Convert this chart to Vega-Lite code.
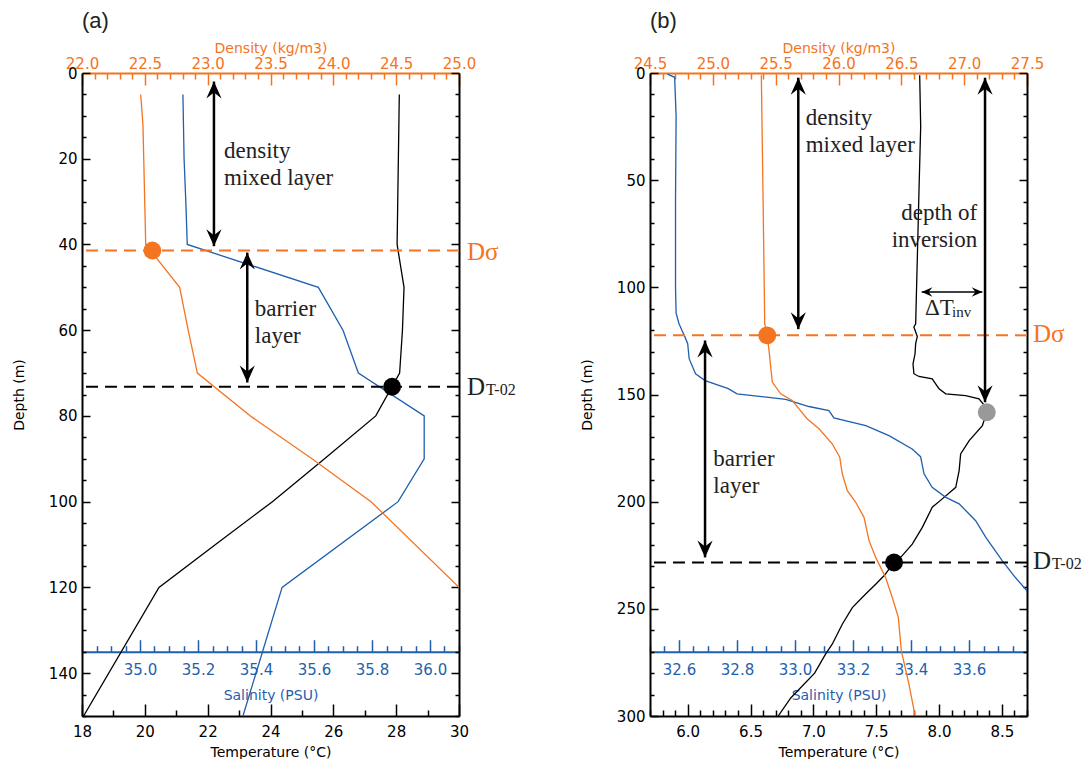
{
  "$schema": "https://vega.github.io/schema/vega-lite/v6.json",
  "background": "white",
  "padding": {"left": 12, "top": 10, "right": 0, "bottom": 0},
  "bounds": "flush",
  "spacing": 191,
  "config": {
    "view": {"stroke": null},
    "axis": {"labelFont": "DejaVu Sans", "labelFontSize": 15, "labelColor": "#000", "titleFont": "DejaVu Sans", "titleFontSize": 14, "titleFontWeight": "normal", "titleColor": "#000", "domainColor": "#000", "domainWidth": 2, "tickColor": "#000", "tickWidth": 1.5, "grid": false, "labelFlush": false, "labelOverlap": false},
    "title": {"font": "Liberation Sans", "fontSize": 22, "fontWeight": "normal", "anchor": "start", "frame": "group", "color": "#222", "offset": 8}
  },
  "datasets": {
    "aT": [{"z":5,"v":28.10},{"z":10,"v":28.09},{"z":20,"v":28.07},{"z":30,"v":28.05},{"z":40,"v":28.03},{"z":50,"v":28.25},{"z":60,"v":28.20},{"z":70,"v":28.11},{"z":80,"v":27.35},{"z":90,"v":25.72},{"z":100,"v":24.06},{"z":110,"v":22.25},{"z":120,"v":20.45},{"z":150,"v":18.05}],
    "aS": [{"z":5,"v":35.148},{"z":20,"v":35.152},{"z":30,"v":35.158},{"z":40,"v":35.163},{"z":50,"v":35.615},{"z":60,"v":35.70},{"z":70,"v":35.753},{"z":80,"v":35.98},{"z":90,"v":35.98},{"z":100,"v":35.89},{"z":120,"v":35.49},{"z":150,"v":35.355}],
    "aD": [{"z":5,"v":22.467},{"z":12,"v":22.485},{"z":40,"v":22.507},{"z":50,"v":22.777},{"z":60,"v":22.845},{"z":70,"v":22.918},{"z":80,"v":23.34},{"z":90,"v":23.83},{"z":100,"v":24.30},{"z":120,"v":25.0},{"z":130,"v":25.35}],
    "bT": [{"z":1,"v":7.846},{"z":25,"v":7.854},{"z":56,"v":7.84},{"z":87,"v":7.827},{"z":117,"v":7.814},{"z":118.5,"v":7.80},{"z":123,"v":7.827},{"z":126.3,"v":7.814},{"z":131,"v":7.809},{"z":135.7,"v":7.793},{"z":140.3,"v":7.80},{"z":141.6,"v":7.84},{"z":142.7,"v":7.946},{"z":145,"v":7.973},{"z":147.3,"v":8.0},{"z":149.7,"v":8.053},{"z":150.5,"v":8.212},{"z":152,"v":8.318},{"z":155.9,"v":8.371},{"z":158.3,"v":8.38},{"z":164.5,"v":8.345},{"z":171.5,"v":8.24},{"z":177.7,"v":8.172},{"z":185.5,"v":8.16},{"z":193.3,"v":8.133},{"z":198.7,"v":8.026},{"z":202.6,"v":7.946},{"z":212,"v":7.867},{"z":219.8,"v":7.787},{"z":226,"v":7.695},{"z":228.4,"v":7.642},{"z":234.6,"v":7.562},{"z":238.5,"v":7.496},{"z":243.1,"v":7.416},{"z":249.4,"v":7.31},{"z":257.2,"v":7.23},{"z":266.5,"v":7.15},{"z":271,"v":7.098},{"z":280,"v":7.01},{"z":291.6,"v":6.82},{"z":300,"v":6.72}],
    "bS": [{"z":0.5,"v":32.56},{"z":2,"v":32.585},{"z":20,"v":32.59},{"z":60,"v":32.588},{"z":100,"v":32.588},{"z":112,"v":32.59},{"z":117,"v":32.60},{"z":120,"v":32.61},{"z":123,"v":32.62},{"z":126.3,"v":32.63},{"z":133.3,"v":32.635},{"z":140.3,"v":32.657},{"z":143.5,"v":32.69},{"z":147.3,"v":32.77},{"z":149.7,"v":32.80},{"z":152.3,"v":32.968},{"z":155.6,"v":33.048},{"z":157.5,"v":33.117},{"z":160.9,"v":33.134},{"z":164.5,"v":33.244},{"z":169.2,"v":33.324},{"z":175.4,"v":33.404},{"z":179,"v":33.433},{"z":187,"v":33.445},{"z":193.3,"v":33.473},{"z":198,"v":33.52},{"z":201,"v":33.566},{"z":208.9,"v":33.623},{"z":216.7,"v":33.658},{"z":227.6,"v":33.715},{"z":235.4,"v":33.76},{"z":241.6,"v":33.80},{"z":250,"v":33.84}],
    "bD": [{"z":1,"v":25.386},{"z":60,"v":25.40},{"z":117,"v":25.413},{"z":122.4,"v":25.433},{"z":129.4,"v":25.447},{"z":144.2,"v":25.473},{"z":149.7,"v":25.54},{"z":152.8,"v":25.632},{"z":156.7,"v":25.686},{"z":161.4,"v":25.752},{"z":166,"v":25.845},{"z":173,"v":25.95},{"z":179.3,"v":26.01},{"z":187,"v":26.03},{"z":194.9,"v":26.07},{"z":200.3,"v":26.137},{"z":207.3,"v":26.203},{"z":218.2,"v":26.243},{"z":226,"v":26.296},{"z":235.4,"v":26.375},{"z":244.7,"v":26.428},{"z":254,"v":26.476},{"z":269.6,"v":26.5},{"z":285,"v":26.56},{"z":300,"v":26.61}]
  },
  "hconcat": [
    {
      "title": {"text": "(a)"},
      "width": 377, "height": 643,
      "resolve": {"scale": {"x": "independent", "y": "independent"}, "axis": {"x": "independent", "y": "independent"}},
      "layer": [
        {
          "data": {"name": "aT"},
          "mark": {"type": "line", "color": "#000", "strokeWidth": 1.3, "clip": true},
          "encoding": {
            "x": {"field": "v", "type": "quantitative", "scale": {"domain": [18, 30], "nice": false, "zero": false},
              "axis": {"orient": "bottom", "title": "Temperature (°C)", "format": "d", "values": [18,18.5,19,19.5,20,20.5,21,21.5,22,22.5,23,23.5,24,24.5,25,25.5,26,26.5,27,27.5,28,28.5,29,29.5,30],
                "labelExpr": "datum.value % 2 === 0 ? datum.label : ''",
                "tickSize": {"condition": {"test": "datum.value % 2 === 0", "value": -12}, "value": -6},
                "labelPadding": 20, "titlePadding": 0}},
            "y": {"field": "z", "type": "quantitative", "scale": {"domain": [150, 0], "nice": false, "zero": false},
              "axis": {"orient": "left", "title": "Depth (m)", "format": "d", "values": [0,5,10,15,20,25,30,35,40,45,50,55,60,65,70,75,80,85,90,95,100,105,110,115,120,125,130,135,140,145,150],
                "labelExpr": "datum.value % 20 === 0 ? datum.label : ''",
                "tickSize": {"condition": {"test": "datum.value % 20 === 0", "value": -8}, "value": -4},
                "labelPadding": 13, "titlePadding": 22}},
            "order": {"field": "z", "type": "quantitative"}
          }
        },
        {
          "data": {"name": "aS"},
          "mark": {"type": "line", "color": "#1f5fae", "strokeWidth": 1.3, "clip": true},
          "encoding": {
            "x": {"field": "v", "type": "quantitative", "scale": {"domain": [34.8, 36.1], "nice": false, "zero": false},
              "axis": {"orient": "bottom", "offset": -64.3, "title": "Salinity (PSU)", "format": ".1f",
                "values": [34.8,34.85,34.9,34.95,35,35.05,35.1,35.15,35.2,35.25,35.3,35.35,35.4,35.45,35.5,35.55,35.6,35.65,35.7,35.75,35.8,35.85,35.9,35.95,36,36.05,36.1],
                "labelExpr": "abs(datum.value*5 - round(datum.value*5)) < 0.001 && datum.value > 34.9 ? datum.label : ''",
                "tickSize": {"condition": {"test": "abs(datum.value*5 - round(datum.value*5)) < 0.001", "value": -12}, "value": -6},
                "labelPadding": 23, "titlePadding": 5,
                "domainColor": "#1f5fae", "tickColor": "#1f5fae", "labelColor": "#1f5fae", "titleColor": "#1f5fae"}},
            "y": {"field": "z", "type": "quantitative", "scale": {"domain": [150, 0], "nice": false, "zero": false},
              "axis": {"orient": "right", "title": null, "labels": false, "values": [0,5,10,15,20,25,30,35,40,45,50,55,60,65,70,75,80,85,90,95,100,105,110,115,120,125,130,135,140,145,150],
                "tickSize": {"condition": {"test": "datum.value % 20 === 0", "value": -8}, "value": -4}}},
            "order": {"field": "z", "type": "quantitative"}
          }
        },
        {
          "data": {"name": "aD"},
          "mark": {"type": "line", "color": "#f47421", "strokeWidth": 1.3, "clip": true},
          "encoding": {
            "x": {"field": "v", "type": "quantitative", "scale": {"domain": [22, 25], "nice": false, "zero": false},
              "axis": {"orient": "top", "title": "Density (kg/m3)", "format": ".1f",
                "values": [22,22.1,22.2,22.3,22.4,22.5,22.6,22.7,22.8,22.9,23,23.1,23.2,23.3,23.4,23.5,23.6,23.7,23.8,23.9,24,24.1,24.2,24.3,24.4,24.5,24.6,24.7,24.8,24.9,25],
                "labelExpr": "abs(datum.value*2 - round(datum.value*2)) < 0.001 ? datum.label : ''",
                "tickSize": {"condition": {"test": "abs(datum.value*2 - round(datum.value*2)) < 0.001", "value": -12}, "value": -6},
                "labelPadding": 14, "titlePadding": -5,
                "domainColor": "#f47421", "tickColor": "#f47421", "labelColor": "#f47421", "titleColor": "#f47421"}},
            "y": {"field": "z", "type": "quantitative", "scale": {"domain": [150, 0], "nice": false, "zero": false}, "axis": null},
            "order": {"field": "z", "type": "quantitative"}
          }
        },
        {
          "data": {"values": [{"z": 41.4}]},
          "mark": {"type": "rule", "color": "#f47421", "strokeWidth": 2, "strokeDash": [12, 7]},
          "encoding": {"y": {"field": "z", "type": "quantitative", "scale": {"domain": [150, 0], "nice": false, "zero": false}, "axis": null}}
        },
        {
          "data": {"values": [{"z": 73.2}]},
          "mark": {"type": "rule", "color": "#000", "strokeWidth": 2, "strokeDash": [12, 7]},
          "encoding": {"y": {"field": "z", "type": "quantitative", "scale": {"domain": [150, 0], "nice": false, "zero": false}, "axis": null}}
        },
        {
          "data": {"values": [{"z": 41.4, "v": 22.56}]},
          "mark": {"type": "circle", "color": "#f47421", "size": 320, "opacity": 1},
          "encoding": {
            "x": {"field": "v", "type": "quantitative", "scale": {"domain": [22, 25], "nice": false, "zero": false}, "axis": null},
            "y": {"field": "z", "type": "quantitative", "scale": {"domain": [150, 0], "nice": false, "zero": false}, "axis": null}
          }
        },
        {
          "data": {"values": [{"z": 73.2, "v": 27.87}]},
          "mark": {"type": "circle", "color": "#000", "size": 320, "opacity": 1},
          "encoding": {
            "x": {"field": "v", "type": "quantitative", "scale": {"domain": [18, 30], "nice": false, "zero": false}, "axis": null},
            "y": {"field": "z", "type": "quantitative", "scale": {"domain": [150, 0], "nice": false, "zero": false}, "axis": null}
          }
        },
        {
          "data": {"values": [{"v": 22.2, "z": 2, "z2": 40.4}, {"v": 23.26, "z": 41.9, "z2": 72.2}]},
          "mark": {"type": "rule", "color": "#000", "strokeWidth": 2.5},
          "encoding": {
            "x": {"field": "v", "type": "quantitative", "scale": {"domain": [18, 30], "nice": false, "zero": false}, "axis": null},
            "y": {"field": "z", "type": "quantitative", "scale": {"domain": [150, 0], "nice": false, "zero": false}, "axis": null},
            "y2": {"field": "z2"}
          }
        },
        {
          "data": {"values": [{"v": 22.2, "z": 2, "dir": "up"}, {"v": 22.2, "z": 40.4, "dir": "down"}, {"v": 23.26, "z": 41.9, "dir": "up"}, {"v": 23.26, "z": 72.2, "dir": "down"}]},
          "mark": {"type": "point", "filled": true, "size": 1600, "color": "#000", "opacity": 1, "strokeWidth": 0},
          "encoding": {
            "x": {"field": "v", "type": "quantitative", "scale": {"domain": [18, 30], "nice": false, "zero": false}, "axis": null},
            "y": {"field": "z", "type": "quantitative", "scale": {"domain": [150, 0], "nice": false, "zero": false}, "axis": null},
            "shape": {"field": "dir", "type": "nominal", "legend": null,
              "scale": {"domain": ["up", "down", "left", "right"], "range": ["M0,0L0.38,0.85L0,0.55L-0.38,0.85Z", "M0,0L0.38,-0.85L0,-0.55L-0.38,-0.85Z", "M0,0L0.85,0.38L0.55,0L0.85,-0.38Z", "M0,0L-0.85,0.38L-0.55,0L-0.85,-0.38Z"]}}
          }
        },
        {
          "data": {"values": [{"v": 22.52, "z": 19.8, "t": "density\nmixed layer"}, {"v": 23.5, "z": 56.8, "t": "barrier\nlayer"}]},
          "mark": {"type": "text", "align": "left", "baseline": "alphabetic", "font": "Liberation Serif", "fontSize": 23, "lineBreak": "\n", "lineHeight": 27, "color": "#222"},
          "encoding": {
            "x": {"field": "v", "type": "quantitative", "scale": {"domain": [18, 30], "nice": false, "zero": false}, "axis": null},
            "y": {"field": "z", "type": "quantitative", "scale": {"domain": [150, 0], "nice": false, "zero": false}, "axis": null},
            "text": {"field": "t"}
          }
        },
        {
          "data": {"values": [{"v": 30, "z": 43.6, "t": "Dσ"}]},
          "mark": {"type": "text", "align": "left", "baseline": "alphabetic", "font": "Liberation Serif", "fontSize": 25, "dx": 8, "color": "#f47421"},
          "encoding": {
            "x": {"field": "v", "type": "quantitative", "scale": {"domain": [18, 30], "nice": false, "zero": false}, "axis": null},
            "y": {"field": "z", "type": "quantitative", "scale": {"domain": [150, 0], "nice": false, "zero": false}, "axis": null},
            "text": {"field": "t"}
          }
        },
        {
          "data": {"values": [{"v": 30, "z": 75.2, "t": "D"}]},
          "mark": {"type": "text", "align": "left", "baseline": "alphabetic", "font": "Liberation Serif", "fontSize": 25, "dx": 8, "color": "#222"},
          "encoding": {
            "x": {"field": "v", "type": "quantitative", "scale": {"domain": [18, 30], "nice": false, "zero": false}, "axis": null},
            "y": {"field": "z", "type": "quantitative", "scale": {"domain": [150, 0], "nice": false, "zero": false}, "axis": null},
            "text": {"field": "t"}
          }
        },
        {
          "data": {"values": [{"v": 30, "z": 75.2, "t": "T-02"}]},
          "mark": {"type": "text", "align": "left", "baseline": "alphabetic", "font": "Liberation Serif", "fontSize": 16, "dx": 27, "color": "#222"},
          "encoding": {
            "x": {"field": "v", "type": "quantitative", "scale": {"domain": [18, 30], "nice": false, "zero": false}, "axis": null},
            "y": {"field": "z", "type": "quantitative", "scale": {"domain": [150, 0], "nice": false, "zero": false}, "axis": null},
            "text": {"field": "t"}
          }
        }
      ]
    },
    {
      "title": {"text": "(b)"},
      "width": 377, "height": 643,
      "resolve": {"scale": {"x": "independent", "y": "independent"}, "axis": {"x": "independent", "y": "independent"}},
      "layer": [
        {
          "data": {"name": "bT"},
          "mark": {"type": "line", "color": "#000", "strokeWidth": 1.3, "clip": true},
          "encoding": {
            "x": {"field": "v", "type": "quantitative", "scale": {"domain": [5.7, 8.7], "nice": false, "zero": false},
              "axis": {"orient": "bottom", "title": "Temperature (°C)", "format": ".1f", "values": [5.7,5.8,5.9,6,6.1,6.2,6.3,6.4,6.5,6.6,6.7,6.8,6.9,7,7.1,7.2,7.3,7.4,7.5,7.6,7.7,7.8,7.9,8,8.1,8.2,8.3,8.4,8.5,8.6,8.7],
                "labelExpr": "abs(datum.value*2 - round(datum.value*2)) < 0.001 ? datum.label : ''",
                "tickSize": {"condition": {"test": "abs(datum.value*2 - round(datum.value*2)) < 0.001", "value": -12}, "value": -6},
                "labelPadding": 20, "titlePadding": 0}},
            "y": {"field": "z", "type": "quantitative", "scale": {"domain": [300, 0], "nice": false, "zero": false},
              "axis": {"orient": "left", "title": "Depth (m)", "format": "d", "values": [0,10,20,30,40,50,60,70,80,90,100,110,120,130,140,150,160,170,180,190,200,210,220,230,240,250,260,270,280,290,300],
                "labelExpr": "datum.value % 50 === 0 ? datum.label : ''",
                "tickSize": {"condition": {"test": "datum.value % 50 === 0", "value": -8}, "value": -4},
                "labelPadding": 13, "titlePadding": 22}},
            "order": {"field": "z", "type": "quantitative"}
          }
        },
        {
          "data": {"name": "bS"},
          "mark": {"type": "line", "color": "#1f5fae", "strokeWidth": 1.3, "clip": true},
          "encoding": {
            "x": {"field": "v", "type": "quantitative", "scale": {"domain": [32.5, 33.8], "nice": false, "zero": false},
              "axis": {"orient": "bottom", "offset": -64.3, "title": "Salinity (PSU)", "format": ".1f",
                "values": [32.5,32.55,32.6,32.65,32.7,32.75,32.8,32.85,32.9,32.95,33,33.05,33.1,33.15,33.2,33.25,33.3,33.35,33.4,33.45,33.5,33.55,33.6,33.65,33.7,33.75,33.8],
                "labelExpr": "abs(datum.value*5 - round(datum.value*5)) < 0.001 && datum.value < 33.7 ? datum.label : ''",
                "tickSize": {"condition": {"test": "abs(datum.value*5 - round(datum.value*5)) < 0.001", "value": -12}, "value": -6},
                "labelPadding": 23, "titlePadding": 5,
                "domainColor": "#1f5fae", "tickColor": "#1f5fae", "labelColor": "#1f5fae", "titleColor": "#1f5fae"}},
            "y": {"field": "z", "type": "quantitative", "scale": {"domain": [300, 0], "nice": false, "zero": false},
              "axis": {"orient": "right", "title": null, "labels": false, "values": [0,10,20,30,40,50,60,70,80,90,100,110,120,130,140,150,160,170,180,190,200,210,220,230,240,250,260,270,280,290,300],
                "tickSize": {"condition": {"test": "datum.value % 50 === 0", "value": -8}, "value": -4}}},
            "order": {"field": "z", "type": "quantitative"}
          }
        },
        {
          "data": {"name": "bD"},
          "mark": {"type": "line", "color": "#f47421", "strokeWidth": 1.3, "clip": true},
          "encoding": {
            "x": {"field": "v", "type": "quantitative", "scale": {"domain": [24.5, 27.5], "nice": false, "zero": false},
              "axis": {"orient": "top", "title": "Density (kg/m3)", "format": ".1f",
                "values": [24.5,24.6,24.7,24.8,24.9,25,25.1,25.2,25.3,25.4,25.5,25.6,25.7,25.8,25.9,26,26.1,26.2,26.3,26.4,26.5,26.6,26.7,26.8,26.9,27,27.1,27.2,27.3,27.4,27.5],
                "labelExpr": "abs(datum.value*2 - round(datum.value*2)) < 0.001 ? datum.label : ''",
                "tickSize": {"condition": {"test": "abs(datum.value*2 - round(datum.value*2)) < 0.001", "value": -12}, "value": -6},
                "labelPadding": 14, "titlePadding": -5,
                "domainColor": "#f47421", "tickColor": "#f47421", "labelColor": "#f47421", "titleColor": "#f47421"}},
            "y": {"field": "z", "type": "quantitative", "scale": {"domain": [300, 0], "nice": false, "zero": false}, "axis": null},
            "order": {"field": "z", "type": "quantitative"}
          }
        },
        {
          "data": {"values": [{"z": 122.4}]},
          "mark": {"type": "rule", "color": "#f47421", "strokeWidth": 2, "strokeDash": [12, 7]},
          "encoding": {"y": {"field": "z", "type": "quantitative", "scale": {"domain": [300, 0], "nice": false, "zero": false}, "axis": null}}
        },
        {
          "data": {"values": [{"z": 228.4}]},
          "mark": {"type": "rule", "color": "#000", "strokeWidth": 2, "strokeDash": [12, 7]},
          "encoding": {"y": {"field": "z", "type": "quantitative", "scale": {"domain": [300, 0], "nice": false, "zero": false}, "axis": null}}
        },
        {
          "data": {"values": [{"z": 122.4, "v": 25.433}]},
          "mark": {"type": "circle", "color": "#f47421", "size": 320, "opacity": 1},
          "encoding": {
            "x": {"field": "v", "type": "quantitative", "scale": {"domain": [24.5, 27.5], "nice": false, "zero": false}, "axis": null},
            "y": {"field": "z", "type": "quantitative", "scale": {"domain": [300, 0], "nice": false, "zero": false}, "axis": null}
          }
        },
        {
          "data": {"values": [{"z": 228.4, "v": 7.642}]},
          "mark": {"type": "circle", "color": "#000", "size": 320, "opacity": 1},
          "encoding": {
            "x": {"field": "v", "type": "quantitative", "scale": {"domain": [5.7, 8.7], "nice": false, "zero": false}, "axis": null},
            "y": {"field": "z", "type": "quantitative", "scale": {"domain": [300, 0], "nice": false, "zero": false}, "axis": null}
          }
        },
        {
          "data": {"values": [{"z": 158.3, "v": 8.38}]},
          "mark": {"type": "circle", "color": "#999999", "size": 320, "opacity": 1},
          "encoding": {
            "x": {"field": "v", "type": "quantitative", "scale": {"domain": [5.7, 8.7], "nice": false, "zero": false}, "axis": null},
            "y": {"field": "z", "type": "quantitative", "scale": {"domain": [300, 0], "nice": false, "zero": false}, "axis": null}
          }
        },
        {
          "data": {"values": [{"v": 6.88, "z": 2.2, "z2": 119.5}, {"v": 8.366, "z": 2.2, "z2": 153.6}, {"v": 6.138, "z": 124.8, "z2": 226}]},
          "mark": {"type": "rule", "color": "#000", "strokeWidth": 2.5},
          "encoding": {
            "x": {"field": "v", "type": "quantitative", "scale": {"domain": [5.7, 8.7], "nice": false, "zero": false}, "axis": null},
            "y": {"field": "z", "type": "quantitative", "scale": {"domain": [300, 0], "nice": false, "zero": false}, "axis": null},
            "y2": {"field": "z2"}
          }
        },
        {
          "data": {"values": [{"v": 6.88, "z": 2.2, "dir": "up"}, {"v": 6.88, "z": 119.5, "dir": "down"}, {"v": 8.366, "z": 2.2, "dir": "up"}, {"v": 8.366, "z": 153.6, "dir": "down"}, {"v": 6.138, "z": 124.8, "dir": "up"}, {"v": 6.138, "z": 226, "dir": "down"}]},
          "mark": {"type": "point", "filled": true, "size": 1600, "color": "#000", "opacity": 1, "strokeWidth": 0},
          "encoding": {
            "x": {"field": "v", "type": "quantitative", "scale": {"domain": [5.7, 8.7], "nice": false, "zero": false}, "axis": null},
            "y": {"field": "z", "type": "quantitative", "scale": {"domain": [300, 0], "nice": false, "zero": false}, "axis": null},
            "shape": {"field": "dir", "type": "nominal", "legend": null,
              "scale": {"domain": ["up", "down", "left", "right"], "range": ["M0,0L0.38,0.85L0,0.55L-0.38,0.85Z", "M0,0L0.38,-0.85L0,-0.55L-0.38,-0.85Z", "M0,0L0.85,0.38L0.55,0L0.85,-0.38Z", "M0,0L-0.85,0.38L-0.55,0L-0.85,-0.38Z"]}}
          }
        },
        {
          "data": {"values": [{"v": 7.862, "v2": 8.345, "z": 102.2}]},
          "mark": {"type": "rule", "color": "#000", "strokeWidth": 1.5},
          "encoding": {
            "x": {"field": "v", "type": "quantitative", "scale": {"domain": [5.7, 8.7], "nice": false, "zero": false}, "axis": null},
            "x2": {"field": "v2"},
            "y": {"field": "z", "type": "quantitative", "scale": {"domain": [300, 0], "nice": false, "zero": false}, "axis": null}
          }
        },
        {
          "data": {"values": [{"v": 7.862, "z": 102.2, "dir": "left"}, {"v": 8.345, "z": 102.2, "dir": "right"}]},
          "mark": {"type": "point", "filled": true, "size": 640, "color": "#000", "opacity": 1, "strokeWidth": 0},
          "encoding": {
            "x": {"field": "v", "type": "quantitative", "scale": {"domain": [5.7, 8.7], "nice": false, "zero": false}, "axis": null},
            "y": {"field": "z", "type": "quantitative", "scale": {"domain": [300, 0], "nice": false, "zero": false}, "axis": null},
            "shape": {"field": "dir", "type": "nominal", "legend": null,
              "scale": {"domain": ["up", "down", "left", "right"], "range": ["M0,0L0.38,0.85L0,0.55L-0.38,0.85Z", "M0,0L0.38,-0.85L0,-0.55L-0.38,-0.85Z", "M0,0L0.85,0.38L0.55,0L0.85,-0.38Z", "M0,0L-0.85,0.38L-0.55,0L-0.85,-0.38Z"]}}
          }
        },
        {
          "data": {"values": [{"v": 6.939, "z": 24.3, "t": "density\nmixed layer"}, {"v": 6.204, "z": 183.2, "t": "barrier\nlayer"}, {"v": 7.888, "z": 113.1, "t": "ΔT"}]},
          "mark": {"type": "text", "align": "left", "baseline": "alphabetic", "font": "Liberation Serif", "fontSize": 23, "lineBreak": "\n", "lineHeight": 27, "color": "#222"},
          "encoding": {
            "x": {"field": "v", "type": "quantitative", "scale": {"domain": [5.7, 8.7], "nice": false, "zero": false}, "axis": null},
            "y": {"field": "z", "type": "quantitative", "scale": {"domain": [300, 0], "nice": false, "zero": false}, "axis": null},
            "text": {"field": "t"}
          }
        },
        {
          "data": {"values": [{"v": 7.888, "z": 113.1, "t": "inv"}]},
          "mark": {"type": "text", "align": "left", "baseline": "alphabetic", "font": "Liberation Serif", "fontSize": 15, "dx": 27, "dy": 2, "color": "#222"},
          "encoding": {
            "x": {"field": "v", "type": "quantitative", "scale": {"domain": [5.7, 8.7], "nice": false, "zero": false}, "axis": null},
            "y": {"field": "z", "type": "quantitative", "scale": {"domain": [300, 0], "nice": false, "zero": false}, "axis": null},
            "text": {"field": "t"}
          }
        },
        {
          "data": {"values": [{"v": 8.304, "z": 68.7, "t": "depth of\ninversion"}]},
          "mark": {"type": "text", "align": "right", "baseline": "alphabetic", "font": "Liberation Serif", "fontSize": 23, "lineBreak": "\n", "lineHeight": 27, "color": "#222"},
          "encoding": {
            "x": {"field": "v", "type": "quantitative", "scale": {"domain": [5.7, 8.7], "nice": false, "zero": false}, "axis": null},
            "y": {"field": "z", "type": "quantitative", "scale": {"domain": [300, 0], "nice": false, "zero": false}, "axis": null},
            "text": {"field": "t"}
          }
        },
        {
          "data": {"values": [{"v": 8.7, "z": 125.6, "t": "Dσ"}]},
          "mark": {"type": "text", "align": "left", "baseline": "alphabetic", "font": "Liberation Serif", "fontSize": 25, "dx": 6, "color": "#f47421"},
          "encoding": {
            "x": {"field": "v", "type": "quantitative", "scale": {"domain": [5.7, 8.7], "nice": false, "zero": false}, "axis": null},
            "y": {"field": "z", "type": "quantitative", "scale": {"domain": [300, 0], "nice": false, "zero": false}, "axis": null},
            "text": {"field": "t"}
          }
        },
        {
          "data": {"values": [{"v": 8.7, "z": 231.3, "t": "D"}]},
          "mark": {"type": "text", "align": "left", "baseline": "alphabetic", "font": "Liberation Serif", "fontSize": 25, "dx": 6, "color": "#222"},
          "encoding": {
            "x": {"field": "v", "type": "quantitative", "scale": {"domain": [5.7, 8.7], "nice": false, "zero": false}, "axis": null},
            "y": {"field": "z", "type": "quantitative", "scale": {"domain": [300, 0], "nice": false, "zero": false}, "axis": null},
            "text": {"field": "t"}
          }
        },
        {
          "data": {"values": [{"v": 8.7, "z": 231.3, "t": "T-02"}]},
          "mark": {"type": "text", "align": "left", "baseline": "alphabetic", "font": "Liberation Serif", "fontSize": 16, "dx": 25, "color": "#222"},
          "encoding": {
            "x": {"field": "v", "type": "quantitative", "scale": {"domain": [5.7, 8.7], "nice": false, "zero": false}, "axis": null},
            "y": {"field": "z", "type": "quantitative", "scale": {"domain": [300, 0], "nice": false, "zero": false}, "axis": null},
            "text": {"field": "t"}
          }
        }
      ]
    }
  ]
}
